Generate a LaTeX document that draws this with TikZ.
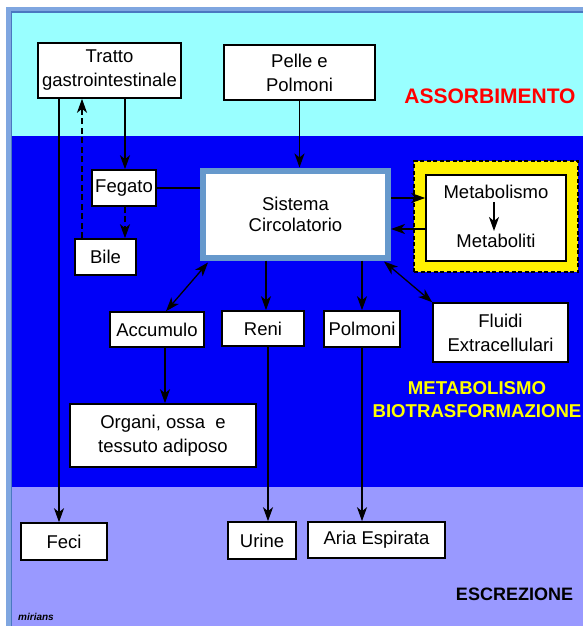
\documentclass[tikz,border=0pt]{standalone}
\usepackage{fontspec}
\setmainfont{Liberation Sans}
\usetikzlibrary{arrows.meta}
\definecolor{cyanbg}{HTML}{99FFFF}
\definecolor{bluebg}{HTML}{0000F8}
\definecolor{lavbg}{HTML}{9999FF}
\definecolor{steel}{HTML}{6699CC}
\definecolor{frameLight}{HTML}{7FA6E0}
\definecolor{frameDark}{HTML}{4A78C0}
\definecolor{titlered}{HTML}{FF0000}
\definecolor{titleyellow}{HTML}{FFFF00}
\begin{document}
\begin{tikzpicture}[x=1pt,y=-1pt,
  box/.style={draw=black,line width=1.6pt,fill=white,inner sep=0pt,align=center,
              font=\fontsize{18.5}{24}\selectfont},
  plaintext/.style={inner sep=0pt,align=center,font=\fontsize{18.5}{24}\selectfont},
  arr/.style={line width=1.8pt,-{Stealth[length=14pt,width=10pt,inset=4pt]}},
  darr/.style={line width=1.3pt,{Stealth[length=14pt,width=10pt,inset=4pt]}-{Stealth[length=14pt,width=10pt,inset=4pt]}},
  longdash/.style={dash pattern=on 6pt off 3.5pt},
  plain/.style={line width=1.8pt},
  phase/.style={font=\fontsize{18.6}{23}\selectfont\bfseries,align=center,inner sep=0pt}
  ]
\useasboundingbox (0,0) rectangle (583,626);
% background bands
\fill[white] (0,0) rectangle (583,626);
\fill[frameLight] (6,7) rectangle (583,626);
\fill[cyanbg] (12,13) rectangle (583,136);
\fill[bluebg] (12,136) rectangle (583,487);
\fill[lavbg] (12,487) rectangle (583,626);
\draw[frameDark,line width=1.5pt] (11.25,626) -- (11.25,12.25) -- (583,12.25);

% nodes
\node[box,minimum width=143pt,minimum height=55pt] (tratto) at (109.5,70.5) {Tratto\\gastrointestinale};
\node[box,minimum width=151pt,minimum height=55pt] (pelle) at (299.5,72.5) {Pelle e\\Polmoni};
\node[box,minimum width=64pt,minimum height=36pt] (fegato) at (124,188) {Fegato};
\node[box,minimum width=61pt,minimum height=36pt] (bile) at (105.5,257) {Bile};
\node[box,draw=steel,line width=6pt,minimum width=185pt,minimum height=87pt,
      font=\fontsize{18.5}{21}\selectfont] (sistema) at (295.5,214) {Sistema\\Circolatorio};
\node[draw=black,dash pattern=on 4pt off 2.5pt,line width=1.3pt,fill=yellow,minimum width=164pt,minimum height=111pt] (ybox) at (496,216.5) {};
\node[box,minimum width=140pt,minimum height=86pt] (metab) at (496,218) {};
\node[plaintext] (mtext) at (496,192) {Metabolismo};
\node[plaintext] (mliti) at (496,241) {Metaboliti};
\node[box,minimum width=94pt,minimum height=35pt] (accumulo) at (157,329.5) {Accumulo};
\node[box,minimum width=82pt,minimum height=35pt] (reni) at (263,328.5) {Reni};
\node[box,minimum width=76pt,minimum height=36pt] (polmoni) at (362,329) {Polmoni};
\node[box,minimum width=135pt,minimum height=59pt] (fluidi) at (500.5,332.5) {Fluidi\\Extracellulari};
\node[box,minimum width=186pt,minimum height=63pt] (organi) at (163,435.5) {Organi, ossa\ \ e\\tessuto adiposo};
\node[box,minimum width=86pt,minimum height=37pt] (feci) at (64,541.5) {Feci};
\node[box,minimum width=68pt,minimum height=37pt] (urine) at (262,540.5) {Urine};
\node[box,minimum width=137pt,minimum height=36pt] (aria) at (376.5,540) {Aria Espirata};

% phase labels
\node[phase,text=titlered,anchor=base,font=\fontsize{21}{24}\selectfont\bfseries] (assorb) at (490,103) {ASSORBIMENTO};
\node[phase,text=titleyellow,anchor=base] (metabl) at (477,417) {METABOLISMO\\BIOTRASFORMAZIONE};
\node[phase,text=black,anchor=base,font=\fontsize{18}{23}\selectfont\bfseries] (escr) at (514.5,600) {ESCREZIONE};
\node[font=\fontsize{10}{10}\selectfont\bfseries\itshape,anchor=base west,inner sep=0pt] (firma) at (18,620) {mirians};

% connectors
\draw[arr] ([xshift=1pt]tratto.south -| fegato.north) -- ([xshift=1pt]fegato.north);
\draw[arr,longdash] ([xshift=-23.5pt]bile.north) -- ([xshift=-23.5pt]bile.north |- tratto.south);
\draw[arr,longdash] ([xshift=1pt]fegato.south) -- ([xshift=1pt]fegato.south |- bile.north);
\draw[arr] ([xshift=-50.5pt]tratto.south) -- ([xshift=-50.5pt]tratto.south |- feci.north);
\draw[plain] (fegato.east) -- (fegato.east -| sistema.west);
\draw[arr] (pelle.south) -- (pelle.south |- sistema.north);
\draw[arr] ([xshift=3pt]reni.north |- sistema.south) -- ([xshift=3pt]reni.north);
\draw[arr] (polmoni.north |- sistema.south) -- (polmoni.north);
\draw[darr] ([xshift=8pt,yshift=-2pt]sistema.south west) -- ([xshift=9pt]accumulo.north);
\draw[darr] ([xshift=-7pt,yshift=-1pt]sistema.south east) -- (fluidi.north west);
\draw[arr] ([yshift=16pt]sistema.east) -- ([yshift=16pt]sistema.east -| metab.west);
\draw[arr] ([yshift=-15pt]sistema.east -| metab.west) -- ([yshift=-15pt]sistema.east);
\draw[arr] ([xshift=8pt]accumulo.south) -- ([xshift=8pt]accumulo.south |- organi.north);
\draw[arr] ([xshift=5pt]reni.south) -- ([xshift=5pt]reni.south |- urine.north);
\draw[arr] (polmoni.south) -- (polmoni.south |- aria.north);
\draw[arr] ([xshift=-2pt,yshift=-3pt]mtext.south) -- ([xshift=-2pt,yshift=3pt]mliti.north);
\end{tikzpicture}
\end{document}
